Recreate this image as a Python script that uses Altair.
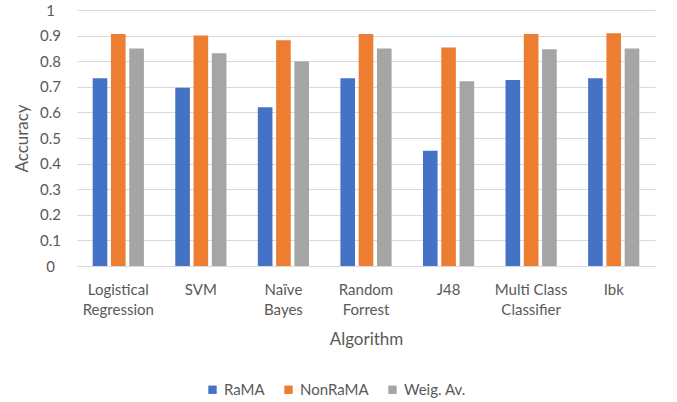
import altair as alt
import pandas as pd

# Accuracy per algorithm for each evaluation group
algorithms = ["Logistical Regression", "SVM", "Naïve Bayes", "Random Forrest",
              "J48", "Multi Class Classifier", "Ibk"]
series = ["RaMA", "NonRaMA", "Weig. Av."]
rama = [0.733, 0.696, 0.620, 0.733, 0.450, 0.727, 0.733]
nonrama = [0.906, 0.900, 0.882, 0.906, 0.854, 0.906, 0.909]
weig_av = [0.850, 0.831, 0.799, 0.850, 0.722, 0.847, 0.850]
colors = ["#4472C4", "#ED7D31", "#A5A5A5"]
y_ticks = [0, 0.1, 0.2, 0.3, 0.4, 0.5, 0.6, 0.7, 0.8, 0.9, 1]

rows = []
for name, values in zip(series, [rama, nonrama, weig_av]):
    for algo, v in zip(algorithms, values):
        rows.append({"Algorithm": algo, "Series": name, "Accuracy": v})
df = pd.DataFrame(rows)

FONT = "Lato"
TEXT = "#595959"

label_expr = ("datum.label == 'Multi Class Classifier' ? ['Multi Class', 'Classifier'] : "
              "split(datum.label, ' ')")

chart = alt.Chart(df).mark_bar().encode(
    x=alt.X("Algorithm:N", sort=algorithms,
            scale=alt.Scale(paddingInner=0.38, paddingOuter=0.19),
            axis=alt.Axis(title="Algorithm", labelAngle=0, labelExpr=label_expr,
                          labelFontSize=15, labelLineHeight=20, labelPadding=16,
                          ticks=False, domain=True, domainColor="#D9D9D9",
                          titleFontSize=17, titlePadding=14, titleFontWeight="normal")),
    xOffset=alt.XOffset("Series:N", sort=series,
                        scale=alt.Scale(paddingInner=0.2, paddingOuter=0)),
    y=alt.Y("Accuracy:Q", scale=alt.Scale(domain=[0, 1], nice=False),
            axis=alt.Axis(values=y_ticks, title="Accuracy", format="~g",
                          labelFontSize=15, labelAlign="center", labelPadding=27,
                          ticks=False, domain=False, grid=True, gridColor="#D9D9D9",
                          titleFontSize=17, titlePadding=8, titleFontWeight="normal")),
    color=alt.Color("Series:N", sort=series,
                    scale=alt.Scale(domain=series, range=colors),
                    legend=alt.Legend(title=None, orient="none", direction="horizontal",
                                      legendX=128, legendY=372, symbolType="square",
                                      symbolSize=70, symbolStrokeWidth=0,
                                      labelFontSize=15, columnPadding=16,
                                      symbolOffset=0)),
).properties(
    width=578, height=256,
    autosize=alt.AutoSizeParams(type="none"),
    padding={"left": 77, "top": 10, "right": 22, "bottom": 136},
).configure(
    font=FONT,
).configure_axis(
    labelColor=TEXT, titleColor=TEXT, labelFont=FONT, titleFont=FONT,
).configure_legend(
    labelColor=TEXT, labelFont=FONT,
).configure_view(
    stroke=None,
)

chart.save("out.html", embed_options={"renderer": "svg", "actions": False})
